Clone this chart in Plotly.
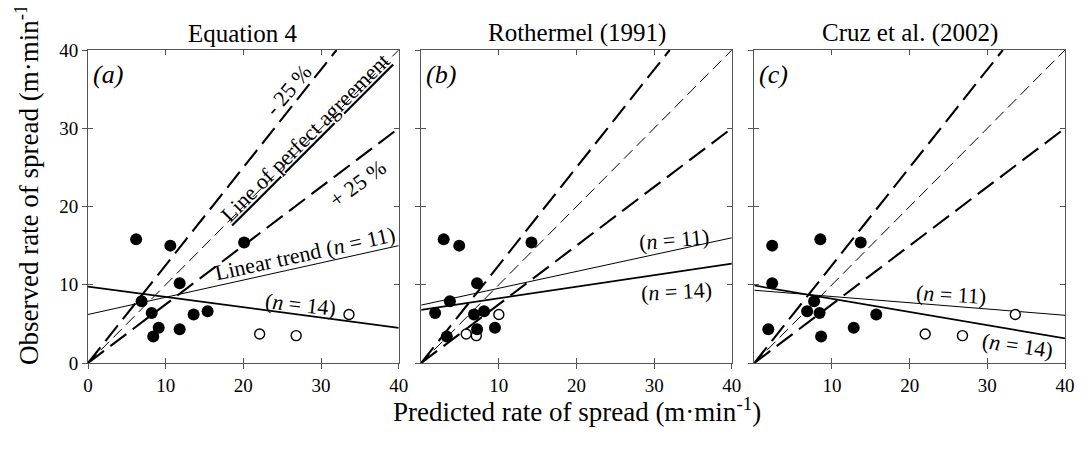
import plotly.graph_objects as go

# ---------------- data ----------------
panel_titles = ["Equation 4", "Rothermel (1991)", "Cruz et al. (2002)"]
panel_letters = ["(a)", "(b)", "(c)"]

obs_filled = [15.8, 15.0, 15.4, 10.2, 7.9, 6.4, 6.2, 6.6, 4.5, 4.3, 3.4]
obs_open = [3.7, 3.5, 6.2]

pred_eq4_filled = [6.2, 10.6, 20.1, 11.8, 6.9, 8.2, 13.6, 15.4, 9.1, 11.8, 8.4]
pred_eq4_open = [22.1, 26.8, 33.6]
pred_roth_filled = [2.9, 4.9, 14.2, 7.2, 3.7, 1.8, 6.8, 8.1, 9.5, 7.2, 3.3]
pred_roth_open = [5.8, 7.1, 10.0]
pred_cruz_filled = [8.5, 2.3, 13.7, 2.3, 7.7, 8.4, 15.7, 6.8, 12.8, 1.8, 8.6]
pred_cruz_open = [22.0, 26.8, 33.6]

# linear trends: observed value at predicted = 0 and predicted = 40
trend_x = [0, 40]
trend11_eq4 = [6.2, 15.0]
trend14_eq4 = [9.75, 4.5]
trend11_roth = [7.4, 16.0]
trend14_roth = [6.8, 12.7]
trend11_cruz = [9.3, 6.1]
trend14_cruz = [9.9, 3.15]

# reference lines: observed = factor * predicted
ref_factors = [1.25, 1.0, 0.75]
axis_max = 40
tick_vals = [0, 10, 20, 30, 40]
tick_vals_nozero = [10, 20, 30, 40]

panels = [
    dict(pf=pred_eq4_filled, po=pred_eq4_open, t11=trend11_eq4, t14=trend14_eq4),
    dict(pf=pred_roth_filled, po=pred_roth_open, t11=trend11_roth, t14=trend14_roth),
    dict(pf=pred_cruz_filled, po=pred_cruz_open, t11=trend11_cruz, t14=trend14_cruz),
]

# ---------------- styles ----------------
FONT = "Liberation Serif"
AX = "#555555"
domains = [[0.0, 0.318], [0.341, 0.659], [0.682, 1.0]]
ref_styles = [
    dict(color="black", width=2.1, dash="20px,8px"),
    dict(color="black", width=1.0, dash="12px,6px"),
    dict(color="black", width=2.1, dash="20px,8px"),
]

fig = go.Figure()

for i, p in enumerate(panels):
    xa = "x" if i == 0 else f"x{i+1}"
    ya = "y" if i == 0 else f"y{i+1}"
    for f, st in zip(ref_factors, ref_styles):
        xe = min(axis_max, axis_max / f)
        fig.add_trace(go.Scatter(x=[0, xe], y=[0, f * xe], mode="lines", line=st,
                                 xaxis=xa, yaxis=ya, showlegend=False, hoverinfo="skip"))
    fig.add_trace(go.Scatter(x=trend_x, y=p["t11"], mode="lines",
                             line=dict(color="black", width=1.0),
                             xaxis=xa, yaxis=ya, showlegend=False))
    fig.add_trace(go.Scatter(x=trend_x, y=p["t14"], mode="lines",
                             line=dict(color="black", width=1.7),
                             xaxis=xa, yaxis=ya, showlegend=False))
    fig.add_trace(go.Scatter(x=p["po"], y=obs_open, mode="markers",
                             marker=dict(size=10, color="white", line=dict(color="black", width=1.4)),
                             xaxis=xa, yaxis=ya, showlegend=False))
    fig.add_trace(go.Scatter(x=p["pf"], y=obs_filled, mode="markers",
                             marker=dict(size=12, color="black", line=dict(width=0)),
                             xaxis=xa, yaxis=ya, showlegend=False))
    fig.add_trace(go.Scatter(x=[None], y=[None], xaxis=f"x{i+4}", yaxis=f"y{i+4}",
                             showlegend=False, hoverinfo="skip"))

tickfont = dict(family=FONT, size=19, color="black")
# page body adds an 8px offset, so the figure is 8px smaller and margins compensate
layout = dict(
    width=1078, height=441,
    margin=dict(l=80, r=14, t=42, b=86),
    paper_bgcolor="white", plot_bgcolor="white",
    showlegend=False,
    font=dict(family=FONT, color="black"),
)
for i in range(3):
    sx = "" if i == 0 else str(i + 1)
    xv = tick_vals if i == 0 else tick_vals_nozero
    layout["xaxis" + sx] = dict(domain=domains[i], range=[0, axis_max], anchor="y" + sx,
                                tickvals=xv, ticks="outside", ticklen=5,
                                tickcolor=AX, showline=True, linecolor=AX, linewidth=1, mirror=True,
                                showgrid=False, zeroline=False, tickfont=tickfont, fixedrange=True)
    layout["yaxis" + sx] = dict(domain=[0, 1], range=[0, axis_max], anchor="x" + sx,
                                tickvals=tick_vals, ticks="outside", ticklen=5,
                                showticklabels=(i == 0),
                                tickcolor=AX, showline=True, linecolor=AX, linewidth=1, mirror=True,
                                showgrid=False, zeroline=False, tickfont=tickfont, fixedrange=True)
    ox = str(i + 4)
    layout["xaxis" + ox] = dict(overlaying="x" + sx, anchor="y" + ox, domain=domains[i],
                                range=[0, axis_max], tickvals=tick_vals, ticks="inside", ticklen=5,
                                tickcolor=AX, showticklabels=False, showline=False, mirror="ticks",
                                showgrid=False, zeroline=False)
    layout["yaxis" + ox] = dict(overlaying="y" + sx, anchor="x" + ox, domain=[0, 1],
                                range=[0, axis_max], tickvals=tick_vals, ticks="inside", ticklen=5,
                                tickcolor=AX, showticklabels=False, showline=False, mirror="ticks",
                                showgrid=False, zeroline=False)
fig.update_layout(**layout)

ann = []
for i in range(3):
    sx = "" if i == 0 else str(i + 1)
    ann.append(dict(text=panel_titles[i], xref=f"x{sx} domain", yref="paper", x=0.5, y=1,
                    xanchor="center", yanchor="bottom", yshift=1, showarrow=False,
                    font=dict(family=FONT, size=25, color="black")))
    ann.append(dict(text=f"<i>{panel_letters[i]}</i>", xref=f"x{sx} domain", yref=f"y{sx} domain",
                    x=0, y=1, xanchor="left", yanchor="top", xshift=3, yshift=-8, showarrow=False,
                    font=dict(family=FONT, size=26, color="black")))


def lab(text, x, y, ang, i, size=22):
    sx = "" if i == 0 else str(i + 1)
    ann.append(dict(text=text, xref="x" + sx, yref="y" + sx, x=x, y=y, textangle=ang,
                    xanchor="center", yanchor="middle", showarrow=False,
                    font=dict(family=FONT, size=size, color="black")))


lab("- 25 %", 25.85, 34.9, -50, 0)
lab("<u>Line of perfect agreement</u>", 27.95, 28.85, -45, 0)
lab("+ 25 %", 34.7, 22.9, -36, 0)
lab("Linear trend (<i>n</i> = 11)", 27.96, 14.0, -12.4, 0)
lab("(<i>n</i> = 14)", 27.3, 7.5, 6, 0)
lab("(<i>n</i> = 11)", 32.6, 15.8, -5, 1)
lab("(<i>n</i> = 14)", 32.9, 9.1, -3, 1)
lab("(<i>n</i> = 11)", 25.3, 8.7, 3, 2)
lab("(<i>n</i> = 14)", 33.9, 2.2, 8, 2)

ann.append(dict(text="Observed rate of spread (m·min<sup>-1</sup>)", xref="paper", yref="paper",
                x=0, y=-0.013, xshift=-61, xanchor="center", yanchor="bottom", textangle=-90,
                showarrow=False, font=dict(family=FONT, size=27, color="black")))
ann.append(dict(text="Predicted rate of spread (m·min<sup>-1</sup>)", xref="paper", yref="paper",
                x=0.5, y=0, yshift=-28, xanchor="center", yanchor="top",
                showarrow=False, font=dict(family=FONT, size=27, color="black")))
fig.update_layout(annotations=ann)

fig.write_html("out.html")
